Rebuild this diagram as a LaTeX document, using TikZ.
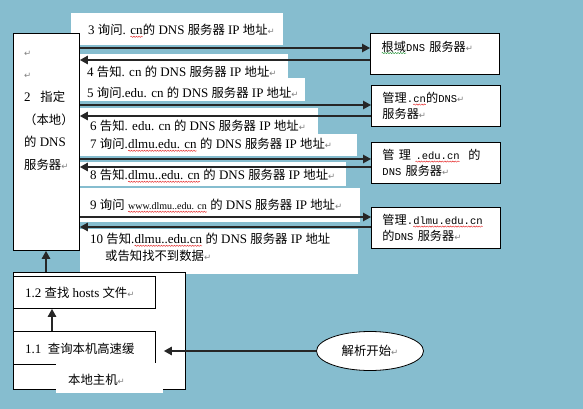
\documentclass[tikz,border=0pt]{standalone}
\usepackage{fontspec}
\setmainfont{Liberation Serif}
\newfontfamily\cjk[Scale=0.95]{Noto Sans CJK SC}
\newfontfamily\monof{Liberation Mono}
\newfontfamily\dvs{DejaVu Sans}
\usetikzlibrary{arrows.meta,shapes.geometric,decorations.pathmorphing}
\definecolor{bgblue}{RGB}{134,189,207}
\definecolor{sqred}{RGB}{230,40,40}
\definecolor{sqgreen}{RGB}{40,150,60}
\newcommand\zh[1]{{\cjk #1}}
\newcommand\mt[1]{{\monof\fontsize{10.5}{12}\selectfont #1}}
\newcommand\crm{{\dvs\color{gray}\fontsize{8.5}{8}\selectfont ↵}}
\newcommand\sq[2][sqred]{\tikz[baseline=(sqt.base)]{\node[inner sep=0pt,outer sep=0pt,text width={},align=none,
  minimum width=0pt,minimum height=0pt,draw=none,fill=none,anchor=center,font={}] (sqt) {#2};
  \draw[#1, line width=0.45pt, decorate, decoration={snake,amplitude=0.6pt,segment length=2.6pt}]
  ([yshift=-2pt]sqt.base west) -- ([yshift=-2pt]sqt.base east);}}
\begin{document}
\begin{tikzpicture}[x=1pt,y=-1pt,
  arr/.style={draw=black!85, line width=1.3pt, -{Triangle[length=8pt,width=8.5pt]}},
  box/.style={draw=black, line width=0.9pt, fill=white, rectangle, inner sep=0pt, anchor=north west},
  lbl/.style={anchor=west, inner sep=0pt, font=\fontsize{13}{15}\selectfont},
  srv/.style={box, align=left, inner xsep=11pt, minimum width=129pt, minimum height=41pt, text width=107pt, font=\fontsize{12.8}{16}\selectfont},
  wbg/.style={fill=white}
]
\fill[bgblue] (0,0) rectangle (583,409);
\useasboundingbox (0,0) rectangle (583,409);
% white label backgrounds
\fill[wbg] (71,13) rectangle (283,45);
\fill[wbg] (80,54) rectangle (288,80);
\fill[wbg] (80,78) rectangle (305,101);
\fill[wbg] (80,108) rectangle (318,140);
\fill[wbg] (80,134) rectangle (357,156);
\fill[wbg] (80,162) rectangle (346,186);
\fill[wbg] (80,188) rectangle (360,222);
\fill[wbg] (80,229) rectangle (358,274);
% local DNS server
\node[box, minimum width=66pt, minimum height=217pt] (ldns) at (13,33) {};
\node[anchor=north west, inner sep=0pt, align=left, font=\fontsize{13}{22.6}\selectfont] (ldnst) at (24,46)
  {\rule{0pt}{10pt}\crm\\ \crm\\ 2\ \ \ \zh{指定}\\ \zh{（本地）}\\ \zh{的} DNS\\ \zh{服务器}\crm};
% servers
\node[srv] (root) at (370,33) {\sq[sqgreen]{\zh{根域}}\mt{DNS }\zh{服务器}\crm\\ \mbox{}};
\node[srv] (cn) at (371,85) {\zh{管理}\mt{.\sq{cn}}\zh{的}\mt{DNS}\crm\\ \zh{服务器}\crm};
\node[srv] (edu) at (371,142) {\zh{管}\mt{~}\zh{理}\mt{~\sq{.edu.cn}~~}\zh{的}\\ \mt{DNS }\zh{服务器}\crm};
\node[srv] (dlmu) at (371,207) {\zh{管理}\mt{.\sq{dlmu.edu.cn}}\\ \zh{的}\mt{DNS }\zh{服务器}\crm};
% labels
\node[lbl] (l3) at (88,31) {3 \zh{询问}. \sq{cn}\zh{的} DNS \zh{服务器} IP \zh{地址}\crm};
\node[lbl] (l4) at (87,72) {4 \zh{告知}. cn \zh{的} DNS \zh{服务器} IP \zh{地址}\crm};
\node[lbl] (l5) at (87,93) {5 \zh{询问}.edu. cn \zh{的} DNS \zh{服务器} IP \zh{地址}\crm};
\node[lbl] (l6) at (90,126) {6 \zh{告知}. edu. cn \zh{的} DNS \zh{服务器} IP \zh{地址}\crm};
\node[lbl] (l7) at (90,145) {7 \zh{询问}.\sq{dlmu.edu. cn} \zh{的} DNS \zh{服务器} IP \zh{地址}\crm};
\node[lbl] (l8) at (90,176) {8 \zh{告知}.\sq{dlmu..edu. cn} \zh{的} DNS \zh{服务器} IP \zh{地址}\crm};
\node[lbl] (l9) at (90,206) {9 \zh{询问} \sq{\fontsize{10}{12}\selectfont www.dlmu..edu. cn} \zh{的} DNS \zh{服务器} IP \zh{地址}\crm};
\node[lbl] (l10) at (90,240) {10 \zh{告知}.\sq{dlmu..edu.cn} \zh{的} DNS \zh{服务器} IP \zh{地址}};
\node[lbl] (l10b) at (105,256) {\zh{或告知找不到数据}\crm};
% arrow rows
\coordinate (r3) at (0,48);
\coordinate (r4) at (0,60);
\coordinate (r5) at (0,105);
\coordinate (r6) at (0,116);
\coordinate (r7) at (0,159);
\coordinate (r8) at (0,167);
\coordinate (r9) at (0,217);
\coordinate (r10) at (0,227);
\draw[arr] (ldns.east |- r3) -- (root.west |- r3);
\draw[arr] (root.west |- r4) -- (ldns.east |- r4);
\draw[arr] (ldns.east |- r5) -- (cn.west |- r5);
\draw[arr] (cn.west |- r6) -- (ldns.east |- r6);
\draw[arr] (ldns.east |- r7) -- (edu.west |- r7);
\draw[arr] (edu.west |- r8) -- (ldns.east |- r8);
\draw[arr] (ldns.east |- r9) -- (dlmu.west |- r9);
\draw[arr] (dlmu.west |- r10) -- (ldns.east |- r10);
% local host
\node[box, minimum width=172pt, minimum height=117pt] (host) at (13,272) {};
\node[box, minimum width=142pt, minimum height=32pt] (b12) at (13,276) {};
\node[lbl] (b12t) at (25,293) {1.2 \zh{查找} hosts \zh{文件}\crm};
\node[box, minimum width=142pt, minimum height=33pt] (b11) at (13,331) {};
\node[lbl] (b11t) at (25,349) {1.1\ \ \zh{查询本机高速缓}};
\node[fill=white, inner sep=0pt, anchor=north west, minimum width=107pt, minimum height=30pt] (hostlbl) at (56,363) {};
\node[lbl] (hostt) at (68,380) {\zh{本地主机}\crm};
\draw[arr] ([xshift=33pt]host.north west) -- ([xshift=33pt]ldns.south west);
\draw[arr] ([xshift=39pt]b11.north west) -- ([xshift=39pt]b12.south west);
% start
\node[ellipse, draw=black, fill=white, line width=0.8pt, minimum width=107pt, minimum height=39pt, inner sep=0pt, font=\fontsize{13}{15}\selectfont] (start) at (370,351) {\zh{解析开始}\crm};
\draw[arr] (start.west) -- ([xshift=8pt]b11.east |- start.west);
\end{tikzpicture}
\end{document}
